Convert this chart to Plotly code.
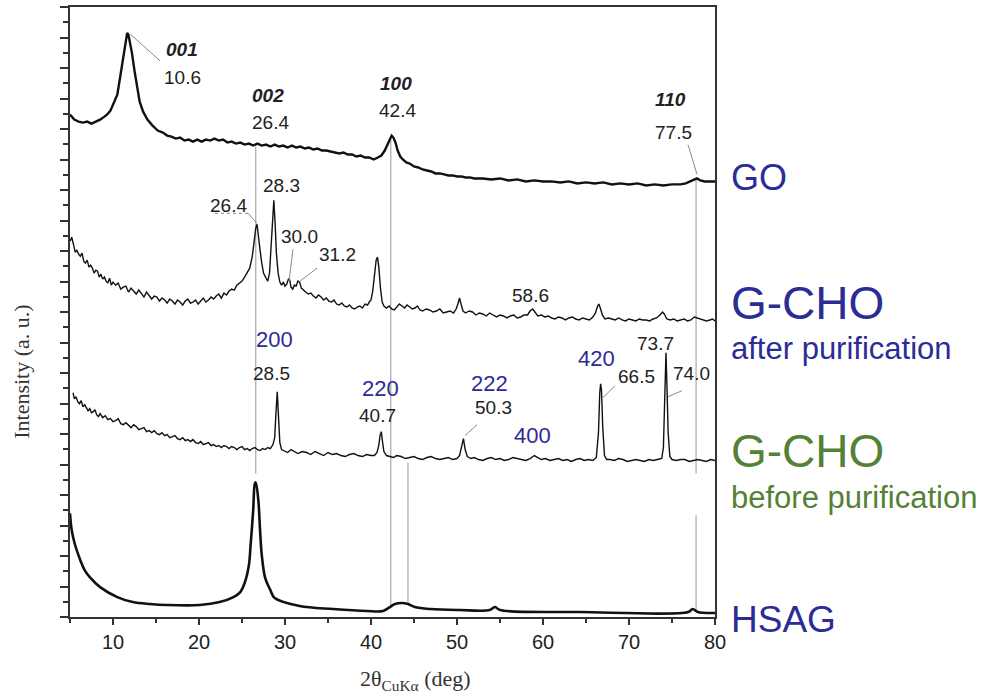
import plotly.graph_objects as go

# ---------------- data (2theta in deg, intensity in arbitrary units) ----------------
go_x = [5.0, 5.5, 6.0, 6.5, 7.0, 7.5, 8.0, 8.5, 9.0, 9.3, 9.7, 10.0, 10.3, 10.5, 10.8, 11.05, 11.3, 11.5, 11.65, 11.8,
        12.0, 12.2, 12.5, 12.8, 13.1, 13.5, 14.0, 14.6, 15.2, 15.8, 16.3, 16.8, 17.3, 17.8, 18.3, 18.8, 19.3, 19.8,
        20.3, 20.8, 21.3, 21.8, 22.3, 22.8, 23.3, 23.8, 24.3, 24.8, 25.3, 25.8, 26.3, 26.8, 27.3, 27.8, 28.3, 28.8,
        29.3, 29.8, 30.3, 30.8, 31.3, 31.8, 32.3, 32.8, 33.3, 33.8, 34.3, 34.8, 35.3, 35.8, 36.3, 36.8, 37.3, 37.8,
        38.3, 38.8, 39.3, 39.8, 40.3, 40.8, 41.2, 41.6, 41.9, 42.2, 42.4, 42.6, 42.85, 43.1, 43.4, 43.7, 44.1, 44.5,
        45.0, 45.5, 46.0, 46.5, 47.0, 47.5, 48.0, 48.5, 49.0, 49.5, 50.0, 50.5, 51.0, 51.5, 52.0, 53.0, 54.0, 55.0,
        56.0, 57.0, 58.0, 59.0, 60.0, 61.0, 62.0, 63.0, 64.0, 65.0, 66.0, 67.0, 68.0, 69.0, 70.0, 71.0, 72.0, 73.0,
        74.0, 75.0, 76.0, 76.6, 77.1, 77.5, 77.9, 78.3, 78.8, 79.3, 80.0]
go_y = [504, 499, 497, 496, 497, 495, 497, 499, 502, 504, 508, 514, 519, 524, 540, 555, 569, 580, 586, 584,
        576, 566, 548, 530, 517, 507, 499, 493, 488, 486, 483, 482, 480, 481, 478, 479, 477, 479,
        477, 479, 478, 480, 478, 479, 476, 477, 475, 476, 474, 475, 473, 475, 473, 474, 472, 474,
        472, 473, 471, 473, 471, 472, 470, 471, 469, 470, 468, 468, 467, 466, 465, 466, 464, 464,
        462, 463, 461, 461, 459, 461, 463, 468, 474, 480, 483, 481, 476, 468, 462, 459, 456, 455,
        452, 451, 449, 448, 447, 445, 445, 444, 443, 443, 442, 442, 441, 441, 440, 440, 439, 440,
        438, 439, 437, 438, 437, 437, 436, 437, 435, 436, 435, 436, 434, 435, 434, 435, 433, 434,
        433, 434, 434, 435, 437, 439, 440, 438, 437, 437, 437]

after_x = [5.0, 5.2, 5.4, 5.6, 5.8, 6.0, 6.2, 6.4, 6.6, 6.8, 7.0, 7.2, 7.4, 7.6, 7.8, 8.0, 8.2, 8.4, 8.6, 8.8,
           9.0, 9.2, 9.4, 9.6, 9.8, 10.0, 10.3, 10.6, 10.9, 11.2, 11.5, 11.8, 12.1, 12.4, 12.7, 13.0, 13.3, 13.6,
           13.9, 14.2, 14.5, 14.8, 15.1, 15.4, 15.7, 16.0, 16.3, 16.6, 16.9, 17.2, 17.5, 17.8, 18.1, 18.4, 18.7,
           19.0, 19.3, 19.6, 19.9, 20.2, 20.5, 20.8, 21.1, 21.4, 21.7, 22.0, 22.3, 22.6, 22.9, 23.2, 23.5, 23.8,
           24.1, 24.4, 24.7, 25.0, 25.3, 25.6, 25.9, 26.2, 26.4, 26.6, 26.75, 26.9, 27.1, 27.3, 27.5, 27.8, 28.0,
           28.2, 28.4, 28.55, 28.7, 28.85, 29.0, 29.2, 29.4, 29.6, 29.8, 30.0, 30.2, 30.4, 30.55, 30.7, 30.9, 31.1,
           31.3, 31.5, 31.7, 31.9, 32.1, 32.4, 32.7, 33.0, 33.3, 33.6, 33.9, 34.2, 34.5, 34.8, 35.1, 35.4, 35.7,
           36.0, 36.3, 36.6, 36.9, 37.2, 37.5, 37.8, 38.1, 38.4, 38.7, 39.0, 39.3, 39.6, 39.8, 40.0, 40.2, 40.4,
           40.6, 40.75, 40.9, 41.1, 41.3, 41.5, 41.8, 42.1, 42.4, 42.7, 43.0, 43.3, 43.6, 43.9, 44.2, 44.5, 44.8,
           45.1, 45.4, 45.7, 46.0, 46.4, 46.8, 47.2, 47.6, 48.0, 48.4, 48.8, 49.2, 49.6, 49.9, 50.1, 50.3, 50.5,
           50.7, 51.0, 51.4, 51.8, 52.2, 52.6, 53.0, 53.4, 53.8, 54.2, 54.6, 55.0, 55.4, 55.8, 56.2, 56.6, 57.0,
           57.4, 57.8, 58.2, 58.5, 58.8, 59.1, 59.4, 59.8, 60.2, 60.6, 61.0, 61.4, 61.8, 62.2, 62.6, 63.0, 63.4,
           63.8, 64.2, 64.6, 65.0, 65.4, 65.8, 66.1, 66.35, 66.5, 66.7, 66.9, 67.2, 67.6, 68.0, 68.4, 68.8, 69.2,
           69.6, 70.0, 70.4, 70.8, 71.2, 71.6, 72.0, 72.4, 72.8, 73.2, 73.6, 73.9, 74.1, 74.4, 74.8, 75.2, 75.6,
           76.0, 76.4, 76.8, 77.2, 77.6, 77.9, 78.2, 78.6, 79.0, 79.4, 79.7, 80.0]
after_y = [377, 381, 374, 366, 368, 364, 362, 365, 357, 355, 358, 351, 353, 350, 345, 348, 347, 341, 344, 339,
           341, 337, 335, 340, 333, 336, 333, 335, 329, 331, 332, 326, 330, 327, 324, 328, 325, 321,
           326, 323, 319, 322, 321, 317, 320, 318, 315, 319, 317, 314, 318, 316, 313, 317, 319,
           315, 316, 318, 314, 317, 320, 316, 318, 321, 319, 322, 324, 320, 325, 323, 327, 329,
           328, 333, 335, 337, 341, 345, 350, 362, 378, 390, 394, 385, 368, 355, 345, 340, 337,
           345, 375, 405, 418, 395, 365, 345, 336, 333, 336, 332, 334, 339, 338, 331, 329, 333,
           332, 337, 336, 330, 328, 326, 324, 325, 322, 320, 323, 321, 318, 320, 317, 316, 318,
           314, 313, 315, 312, 311, 313, 310, 309, 311, 312, 310, 314, 313, 316, 318, 327, 342,
           358, 361, 352, 330, 316, 312, 310, 312, 309, 308, 311, 314, 312, 310, 313, 311, 309,
           310, 312, 308, 307, 309, 308, 306, 307, 309, 305, 306, 307, 305, 309, 314, 320, 313,
           307, 305, 307, 306, 303, 305, 304, 302, 305, 303, 301, 303, 302, 300, 302, 303, 300,
           301, 303, 303, 307, 309, 305, 302, 303, 301, 302, 300, 299, 301, 300, 298, 300, 301,
           299, 298, 300, 299, 298, 301, 305, 312, 314, 309, 303, 299, 300, 299, 298, 300, 298,
           297, 299, 298, 297, 299, 298, 298, 297, 299, 300, 303, 306, 304, 299, 298, 299, 297,
           298, 299, 297, 298, 301, 300, 299, 298, 297, 298, 299, 297]

before_x = [5.35, 5.5, 5.7, 5.9, 6.1, 6.3, 6.5, 6.7, 6.9, 7.1, 7.3, 7.5, 7.7, 7.9, 8.1, 8.3, 8.5, 8.8, 9.1, 9.4,
            9.7, 10.0, 10.3, 10.6, 10.9, 11.2, 11.5, 11.8, 12.1, 12.4, 12.7, 13.0, 13.3, 13.6, 13.9, 14.2, 14.5,
            14.8, 15.1, 15.4, 15.7, 16.0, 16.3, 16.6, 16.9, 17.2, 17.5, 17.8, 18.1, 18.4, 18.7, 19.0, 19.3, 19.6,
            19.9, 20.2, 20.5, 20.8, 21.1, 21.4, 21.7, 22.0, 22.3, 22.6, 22.9, 23.2, 23.5, 23.8, 24.1, 24.4, 24.7,
            25.0, 25.3, 25.6, 25.9, 26.2, 26.5, 26.8, 27.1, 27.4, 27.7, 28.0, 28.3, 28.6, 28.8, 28.95, 29.1, 29.25,
            29.4, 29.6, 29.9, 30.3, 30.7, 31.1, 31.5, 32.0, 32.5, 33.0, 33.5, 34.0, 34.5, 35.0, 35.5, 36.0, 36.5,
            37.0, 37.5, 38.0, 38.5, 39.0, 39.5, 40.0, 40.4, 40.7, 40.9, 41.05, 41.2, 41.35, 41.5, 41.8, 42.2, 42.6,
            43.0, 43.5, 44.0, 44.5, 45.0, 45.5, 46.0, 46.5, 47.0, 47.5, 48.0, 48.5, 49.0, 49.5, 50.0, 50.3, 50.55,
            50.75, 50.95, 51.2, 51.6, 52.0, 52.5, 53.0, 53.5, 54.0, 54.5, 55.0, 55.5, 56.0, 56.5, 57.0, 57.5, 58.0,
            58.5, 59.0, 59.4, 59.8, 60.3, 60.8, 61.3, 61.8, 62.3, 62.8, 63.3, 63.8, 64.3, 64.8, 65.3, 65.8, 66.2,
            66.45, 66.6, 66.7, 66.8, 66.95, 67.15, 67.4, 67.8, 68.3, 68.8, 69.3, 69.8, 70.3, 70.8, 71.3, 71.8,
            72.3, 72.8, 73.3, 73.8, 74.0, 74.15, 74.3, 74.42, 74.55, 74.75, 75.0, 75.5, 76.0, 76.5, 77.0, 77.5,
            78.0, 78.5, 79.0, 79.5, 80.0]
before_y = [225, 219, 221, 216, 214, 217, 211, 213, 210, 207, 209, 205, 206, 208, 203, 201, 204,
            200, 202, 198, 199, 196, 197, 199, 194, 193, 195, 192, 190, 193, 191, 188, 189, 190, 186, 187, 185,
            187, 184, 183, 185, 182, 183, 180, 181, 182, 179, 178, 180, 177, 178, 176, 178, 175, 174, 176, 173,
            174, 175, 172, 173, 171, 172, 170, 172, 171, 169, 171, 170, 168, 170, 171, 168, 169, 167, 169, 170,
            168, 167, 169, 168, 170, 169,
            173, 180, 205, 226, 200, 175, 168,
            167, 165, 168, 166, 164, 166, 165, 163, 166, 164, 162, 165, 163, 164, 162, 161, 163, 164, 162, 161,
            163, 162, 162,
            165, 172, 182, 186, 175, 166,
            162, 161, 160, 162, 161, 159, 160, 161, 159, 158, 160, 161, 159, 158, 159, 160, 158, 159,
            162, 170, 179, 168, 161,
            159, 160, 158, 157, 159, 160, 158, 159, 157, 158, 160, 159, 158, 157, 159,
            162, 160, 158,
            159, 157, 158, 159, 157, 158, 156, 158, 159, 157, 158, 157,
            160, 185, 225, 234, 228, 190, 162, 158,
            158, 157, 159, 158, 156, 157, 158, 157, 156, 158, 157, 158, 159,
            170, 220, 265, 230, 185, 161, 158,
            157, 158, 158, 156, 157, 158, 157, 156, 158, 157]

hsag_x = [5.0, 5.2, 5.6, 6.2, 6.7, 7.3, 8.5, 10.5, 12.3, 14.3, 16.3, 20.1, 22.4, 24.0, 24.8, 25.3, 25.8, 26.0,
          26.3, 26.5, 26.6, 26.9, 27.1, 27.3, 27.7, 28.3, 28.8, 31.7, 35.6, 39.5, 41.4, 42.2, 42.8, 43.6, 44.3,
          45.1, 46.9, 50.3, 53.8, 54.4, 55.0, 64.3, 76.9, 77.4, 78.0, 80.0]
hsag_y = [104, 87, 72, 57, 47, 40, 30, 20, 15, 13, 12, 12, 15, 20, 25, 34, 52, 72,
          107, 134, 135, 117, 87, 62, 39, 27, 19, 11, 8, 6, 6, 10, 13, 14, 13,
          10, 8, 7, 7, 10, 7, 5, 5, 8, 5, 4]

# reference lines (2theta) and their vertical extents (intensity)
ref_x = [26.6, 42.3, 44.3, 77.8, 77.8]
ref_top = [472, 479, 155, 439, 102]
ref_bottom = [144, 10, 14, 144, 6]

# peak annotations
hkl_go = ["001", "002", "100", "110"]
pos_go = ["10.6", "26.4", "42.4", "77.5"]
peaks_after = ["26.4", "28.3", "30.0", "31.2", "58.6"]
hkl_before = ["200", "220", "222", "400", "420"]
peaks_before = ["28.5", "40.7", "50.3", "66.5", "73.7", "74.0"]
sample_names = ["GO", "G-CHO", "after purification", "G-CHO", "before purification", "HSAG"]

BLUE = "#2C2C96"
GREEN = "#538135"
SANS = "Arial, Liberation Sans, sans-serif"
SERIF = "Times New Roman, Liberation Serif, serif"

fig = go.Figure()
for xs, ys, w, shp in [(go_x, go_y, 2.4, "linear"), (after_x, after_y, 1.4, "linear"),
                       (before_x, before_y, 1.4, "linear"), (hsag_x, hsag_y, 2.6, "spline")]:
    fig.add_trace(go.Scatter(x=xs, y=ys, mode="lines", line=dict(color="#111", width=w, shape=shp),
                             showlegend=False, hoverinfo="skip"))

shapes = []
for xv, t, b in zip(ref_x, ref_top, ref_bottom):
    shapes.append(dict(type="line", xref="x", yref="y", x0=xv, x1=xv, y0=b, y1=t,
                       line=dict(color="#A8A8A8", width=1.2), layer="below"))
leaders = [((11.98, 585), (15.47, 558), "solid"), ((76.86, 474), (77.91, 444), "solid"),
           ((21.86, 405), (25.70, 405), "dot"), ((25.70, 405), (26.74, 395), "solid"),
           ((30.93, 369), (30.47, 337), "solid"), ((33.72, 350), (31.74, 337), "solid"),
           ((68.37, 232), (66.98, 220), "solid"), ((76.16, 227), (74.53, 221), "solid"),
           ((52.33, 193), (50.93, 182), "solid")]
for (a, b, d) in leaders:
    shapes.append(dict(type="line", xref="x", yref="y", x0=a[0], y0=a[1], x1=b[0], y1=b[1],
                       line=dict(color="#8A8A8A", width=1, dash=d)))

ann = []
def txt(x, y, s, size=19, color="#222", font=SANS, xref="x", yref="y", xanchor="center", angle=0):
    ann.append(dict(x=x, y=y, xref=xref, yref=yref, text=s, showarrow=False, xanchor=xanchor,
                    yanchor="middle", textangle=angle, font=dict(size=size, color=color, family=font)))

for s, (x, y) in zip(hkl_go, [(18.0, 569), (28.0, 523), (42.9, 535), (74.8, 519)]):
    txt(x, y, "<b><i>" + s + "</i></b>")
for s, (x, y) in zip(pos_go, [(18.1, 541), (28.3, 496), (43.1, 508), (75.2, 486)]):
    txt(x, y, s)
for s, (x, y) in zip(peaks_after, [(23.4, 413), (29.65, 433), (31.74, 382), (36.05, 364), (58.5, 323)]):
    txt(x, y, s)
for s, (x, y) in zip(hkl_before, [(28.8, 278), (41.05, 229), (53.8, 234), (58.8, 182), (66.2, 259)]):
    txt(x, y, s, size=22, color=BLUE)
for s, (x, y) in zip(peaks_before, [(28.4, 244), (40.8, 202), (54.2, 210), (70.9, 241), (73.1, 274), (77.3, 244)]):
    txt(x, y, s)

for s, y, size, col in zip(sample_names, [0.7206, 0.5147, 0.4395, 0.2729, 0.1961, -0.0033],
                           [36, 46, 31, 46, 31, 37], [BLUE, BLUE, BLUE, GREEN, GREEN, BLUE]):
    txt(1.022, y, s, size=size, color=col, xref="paper", yref="paper", xanchor="left")

txt(-0.0744, 0.402, "Intensity (a. u.)", size=22, color="#333", font=SERIF, xref="paper", yref="paper", angle=-90)
txt(0.536, -0.103, "2θ<sub>CuKα</sub> (deg)", size=22, color="#333", font=SERIF, xref="paper", yref="paper")

fig.update_layout(
    width=986, height=697, margin=dict(l=70, r=271, t=5, b=80),
    paper_bgcolor="white", plot_bgcolor="white", shapes=shapes, annotations=ann,
    xaxis=dict(range=[5, 80], tick0=0, dtick=10, ticks="outside", ticklen=6, tickwidth=2, tickcolor="#333",
               minor=dict(dtick=5, tick0=0, ticks="outside", ticklen=4, tickwidth=2, tickcolor="#333"),
               showline=True, linewidth=2, linecolor="#333", mirror=True, showgrid=False, zeroline=False,
               tickfont=dict(size=20, family=SANS, color="#222")),
    yaxis=dict(range=[0, 612], tick0=0, dtick=30.6, ticks="outside", ticklen=8, tickwidth=2, tickcolor="#333",
               minor=dict(dtick=15.3, tick0=0, ticks="outside", ticklen=5, tickwidth=2, tickcolor="#333"),
               showline=True, linewidth=2, linecolor="#333", mirror=True, showgrid=False, zeroline=False,
               showticklabels=False),
)
fig.write_html("out.html")
